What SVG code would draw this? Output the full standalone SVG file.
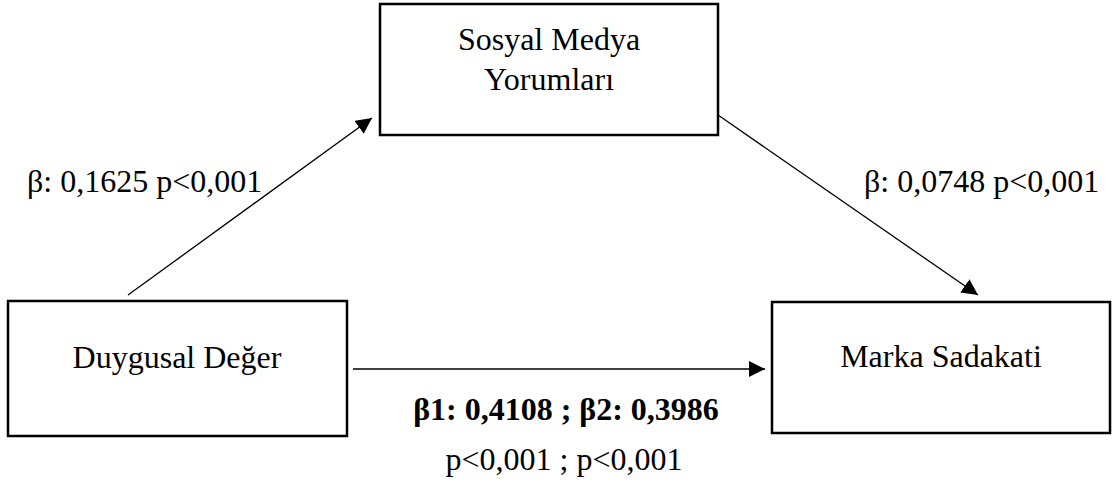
<svg xmlns="http://www.w3.org/2000/svg" width="1112" height="489" viewBox="0 0 1112 489">
<style>
.box{fill:#fff;stroke:#000;stroke-width:2.5}
.t{font-family:"Liberation Serif","Times New Roman",serif;font-size:32px;fill:#000}
.c{text-anchor:middle}
.b{font-weight:bold}
.con{stroke:#000;stroke-width:1.3;fill:none}
</style>
<defs>
<marker id="ah" markerUnits="userSpaceOnUse" markerWidth="18" markerHeight="16" refX="16" refY="8" orient="auto">
<path d="M0,0 L16,8 L0,16 Z" fill="#000"/>
</marker>
</defs>
<rect width="1112" height="489" fill="#fff"/>
<g id="node-smy">
<rect class="box" x="380" y="4" width="338" height="131"/>
<text class="t c" x="549" y="50">Sosyal Medya</text>
<text class="t c" x="549" y="90">Yorumları</text>
</g>
<g id="node-dd">
<rect class="box" x="8" y="301" width="339" height="135"/>
<text class="t c" x="177" y="368">Duygusal Değer</text>
</g>
<g id="node-ms">
<rect class="box" x="772" y="302" width="338" height="131"/>
<text class="t c" x="941" y="367">Marka Sadakati</text>
</g>
<g id="connectors">
<line class="con" x1="128" y1="295" x2="372" y2="118" marker-end="url(#ah)"/>
<line class="con" x1="718" y1="115" x2="978" y2="295" marker-end="url(#ah)"/>
<line class="con" x1="353" y1="369" x2="765" y2="369" marker-end="url(#ah)"/>
</g>
<g id="labels">
<text class="t" x="27" y="192">β: 0,1625 p&lt;0,001</text>
<text class="t" x="864" y="192">β: 0,0748 p&lt;0,001</text>
<text class="t c b" x="566" y="420">β1: 0,4108 ; β2: 0,3986</text>
<text class="t c" x="564" y="470">p&lt;0,001 ; p&lt;0,001</text>
</g>
</svg>
